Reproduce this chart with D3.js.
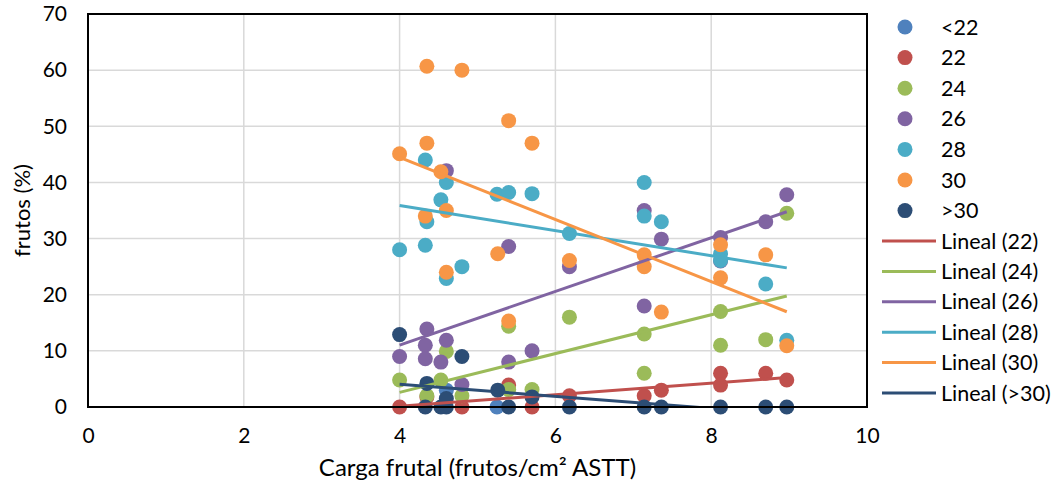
<!DOCTYPE html>
<html>
<head>
<meta charset="utf-8">
<script src="https://cdn.jsdelivr.net/npm/d3@7"></script>
<style>
  body { margin: 0; background: #fff; }
  text { font-family: Lato, "Noto Sans", sans-serif; fill: #000; }
</style>
</head>
<body>
<div id="chart"></div>
<script>
var width = 1058;
var height = 488;

// series names / colours (legend order)
const seriesNames = ["<22", "22", "24", "26", "28", "30", ">30"];
const seriesColors = ["#4f81bd", "#c0504d", "#9bbb59", "#8064a2", "#4bacc6", "#f79646", "#2c4d75"];
const trendSeries = ["22", "24", "26", "28", "30", ">30"];

// [carga frutal, frutos %]
const sLess22 = [[4.6, 3.0], [5.25, 0]];
const s22 = [[4.0, 0], [4.35, 1.8], [4.8, 0], [5.4, 3.9], [5.7, 0], [6.18, 2.0], [7.14, 2.0], [7.36, 3.0],
             [8.12, 6.0], [8.12, 3.9], [8.7, 6.0], [8.97, 4.8]];
const s24 = [[4.0, 4.8], [4.35, 2.0], [4.53, 4.8], [4.6, 9.9], [4.8, 2.0], [5.4, 14.4], [5.4, 3.1], [5.7, 3.1],
             [6.18, 16.0], [7.14, 13.0], [7.14, 6.0], [8.12, 17.0], [8.12, 11.0], [8.7, 12.0], [8.97, 34.5]];
const s26 = [[4.0, 9.0], [4.35, 13.9], [4.33, 11.0], [4.33, 8.6], [4.6, 42.1], [4.6, 11.9], [4.53, 8.0], [4.8, 4.0],
             [5.4, 28.6], [5.4, 8.0], [5.7, 10.0], [6.18, 25.0], [7.14, 35.0], [7.14, 18.0], [7.36, 29.9],
             [8.12, 30.2], [8.12, 26.0], [8.7, 33.0], [8.97, 37.8]];
const s28 = [[4.0, 28.0], [4.33, 44.0], [4.33, 28.8], [4.35, 33.0], [4.53, 36.9], [4.6, 40.0], [4.6, 22.9], [4.8, 25.0],
             [5.25, 37.9], [5.4, 38.2], [5.7, 38.0], [6.18, 30.9], [7.14, 40.0], [7.14, 34.0], [7.36, 33.0],
             [8.12, 27.3], [8.12, 26.1], [8.7, 21.9], [8.97, 11.9]];
const s30 = [[4.0, 45.1], [4.35, 60.7], [4.35, 47.0], [4.33, 34.0], [4.53, 41.9], [4.6, 35.0], [4.6, 24.0], [4.8, 60.0],
             [5.26, 27.3], [5.4, 51.0], [5.4, 15.3], [5.7, 47.0], [6.18, 26.1], [7.14, 27.1], [7.14, 25.0],
             [7.36, 16.9], [8.12, 28.9], [8.12, 23.0], [8.7, 27.1], [8.97, 10.9]];
const sMore30 = [[4.0, 12.9], [4.35, 4.2], [4.33, 0], [4.53, 0], [4.6, 0], [4.6, 1.5], [4.8, 9.0], [5.26, 3.0],
                 [5.4, 0], [5.7, 1.8], [6.18, 0], [7.14, 0], [7.36, 0], [8.12, 0], [8.7, 0], [8.97, 0]];

const xTicks = [0, 2, 4, 6, 8, 10];
const yTicks = [0, 10, 20, 30, 40, 50, 60, 70];

var seriesData = [sLess22, s22, s24, s26, s28, s30, sMore30];

var plot = {left: 88, right: 867, top: 14, bottom: 407};

var x = d3.scaleLinear().domain([0, 10]).range([plot.left, plot.right]);
var y = d3.scaleLinear().domain([0, 70]).range([plot.bottom, plot.top]);

var svg = d3.select("#chart").append("svg").attr("width", width).attr("height", height);

svg.append("clipPath").attr("id", "plotClip")
  .append("rect")
  .attr("x", plot.left).attr("y", plot.top)
  .attr("width", plot.right - plot.left).attr("height", plot.bottom - plot.top);

// gridlines
svg.append("g").selectAll("line.h")
  .data(yTicks.slice(1, -1))
  .join("line")
  .attr("x1", plot.left).attr("x2", plot.right)
  .attr("y1", d => y(d)).attr("y2", d => y(d))
  .style("stroke", "#d9d9d9").style("stroke-width", 1.5);

svg.append("g").selectAll("line.v")
  .data(xTicks.slice(1, -1))
  .join("line")
  .attr("x1", d => x(d)).attr("x2", d => x(d))
  .attr("y1", plot.top).attr("y2", plot.bottom)
  .style("stroke", "#d9d9d9").style("stroke-width", 1.5);

// axes (labels only)
var yAxis = svg.append("g").attr("transform", "translate(" + plot.left + ",0)")
  .call(d3.axisLeft(y).tickValues(yTicks).tickSize(0).tickPadding(21));
var xAxis = svg.append("g").attr("transform", "translate(0," + plot.bottom + ")")
  .call(d3.axisBottom(x).tickValues(xTicks).tickSize(0).tickPadding(21));
[yAxis, xAxis].forEach(function(a) {
  a.select(".domain").remove();
  a.selectAll("text").style("font-size", "21px").style("font-family", "Lato, 'Noto Sans', sans-serif").attr("fill", "#000");
});

// markers
var pts = svg.append("g");
seriesData.forEach(function(s, i) {
  pts.append("g").selectAll("circle")
    .data(s)
    .join("circle")
    .attr("cx", d => x(d[0]))
    .attr("cy", d => y(d[1]))
    .attr("r", 7.5)
    .style("fill", seriesColors[i]);
});

// linear trendlines
function linFit(s) {
  var mx = d3.mean(s, d => d[0]), my = d3.mean(s, d => d[1]);
  var sxy = d3.sum(s, d => (d[0] - mx) * (d[1] - my));
  var sxx = d3.sum(s, d => (d[0] - mx) * (d[0] - mx));
  var b = sxy / sxx;
  var a = my - b * mx;
  var x0 = d3.min(s, d => d[0]), x1 = d3.max(s, d => d[0]);
  return [[x0, a + b * x0], [x1, a + b * x1]];
}

var trends = svg.append("g").attr("clip-path", "url(#plotClip)");
trendSeries.forEach(function(name) {
  var i = seriesNames.indexOf(name);
  var seg = linFit(seriesData[i]);
  trends.append("line")
    .attr("x1", x(seg[0][0])).attr("y1", y(seg[0][1]))
    .attr("x2", x(seg[1][0])).attr("y2", y(seg[1][1]))
    .style("stroke", seriesColors[i]).style("stroke-width", 3);
});

// frame
svg.append("rect")
  .attr("x", plot.left).attr("y", plot.top)
  .attr("width", plot.right - plot.left).attr("height", plot.bottom - plot.top)
  .style("fill", "none").style("stroke", "#000").style("stroke-width", 2);

// axis titles
svg.append("text")
  .attr("x", (plot.left + plot.right) / 2).attr("y", 476)
  .attr("text-anchor", "middle").style("font-size", "24px")
  .text("Carga frutal (frutos/cm² ASTT)");

svg.append("text")
  .attr("transform", "translate(30," + ((plot.top + plot.bottom) / 2) + ") rotate(-90)")
  .attr("text-anchor", "middle").style("font-size", "22px")
  .text("frutos (%)");

// legend
var legend = svg.append("g");
seriesNames.forEach(function(name, i) {
  var ly = 27 + i * 30.6;
  legend.append("circle").attr("cx", 905).attr("cy", ly).attr("r", 7.5).style("fill", seriesColors[i]);
  legend.append("text").attr("x", 941).attr("y", ly).attr("dy", "0.35em").style("font-size", "21.5px").text(name);
});
trendSeries.forEach(function(name, k) {
  var i = seriesNames.indexOf(name);
  var ly = 241 + k * 30.4;
  legend.append("line").attr("x1", 882).attr("x2", 936).attr("y1", ly).attr("y2", ly)
    .style("stroke", seriesColors[i]).style("stroke-width", 3);
  legend.append("text").attr("x", 941).attr("y", ly).attr("dy", "0.35em").style("font-size", "21.5px")
    .text("Lineal (" + name + ")");
});
</script>
</body>
</html>
